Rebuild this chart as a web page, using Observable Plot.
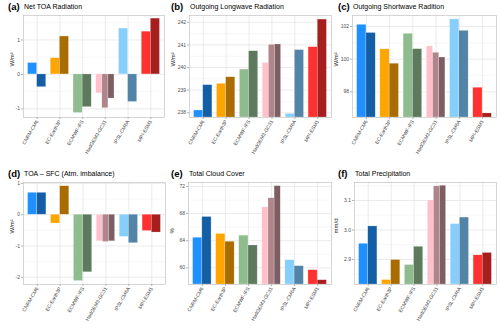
<!DOCTYPE html>
<html><head><meta charset="utf-8">
<script src="https://cdn.jsdelivr.net/npm/d3@7"></script>
<script src="https://cdn.jsdelivr.net/npm/@observablehq/plot@0.6"></script>
<style>
body{margin:0;background:#fff;font-family:"Liberation Sans",Arial,sans-serif;}
#wrap{position:relative;width:500px;height:326px;overflow:hidden;background:#fff;}
.cell{position:absolute;width:166px;height:163px;}
.tag{position:absolute;font-weight:bold;font-size:9.5px;line-height:10px;color:#000;white-space:nowrap;}
.ttl{position:absolute;font-size:7px;line-height:8px;color:#000;white-space:nowrap;}
.cell svg{position:absolute;left:0;}
</style></head><body><div id="wrap"></div>
<script>
const models = ["CNRM-CM6","EC-Earth3P","ECMWF-IFS","HadGEM3-GC31","IPSL-CM6A","MPI-ESM1"];
const colors = [
  ["#1e90ff","#145ea6"],
  ["#ffa500","#a86c00"],
  ["#8fbc8f","#5d7a5d"],
  ["#ffc0cb","#b0848b","#7d5e63"],
  ["#87cefa","#5184a6"],
  ["#ff3030","#a61f1f"]
];
const tags = ["(a)","(b)","(c)","(d)","(e)","(f)"];
const titles = ["Net TOA Radiation","Outgoing Longwave Radiation","Outgoing Shortwave Radition","TOA \u2013 SFC (Atm. imbalance)","Total Cloud Cover","Total Precipitation"];
const units = ["W/m\u00b2","W/m\u00b2","W/m\u00b2","W/m\u00b2","%","mm/d"];
const netTOA = [[0.33,-0.37],[0.47,1.10],[-1.12,-0.95],[-0.55,-0.98,-0.70],[1.33,-0.80],[1.24,1.62]];
const olr    = [[238.10,239.22],[239.28,239.57],[239.91,240.72],[240.20,241.00,241.02],[237.95,240.77],[240.90,242.12]];
const osr    = [[102.10,101.60],[100.60,99.72],[101.55,100.61],[100.78,100.39,100.10],[102.43,101.73],[98.25,96.68]];
const atmImb = [[0.70,0.70],[-0.28,0.91],[-2.12,-1.84],[-0.85,-0.87,-0.85],[-0.71,-0.91],[-0.52,-0.57]];
const cloud  = [[64.44,67.50],[65.00,63.85],[64.74,63.30],[68.93,70.26,72.05],[61.12,60.24],[59.65,58.17]];
const precip = [[2.953,3.012],[2.830,2.898],[2.881,2.943],[3.100,3.148,3.150],[3.020,3.042],[2.914,2.922]];
const yTicks = [[-1,0,1],[238,239,240,241,242],[98,100,102],[-2,-1,0,1],[60,64,68,72],[2.9,3.0,3.1]];
const yMinor = [[-0.5,0.5,1.5],[238.5,239.5,240.5,241.5],[97,99,101],[-1.5,-0.5,0.5],[58,62,66,70],[2.85,2.95,3.05,3.15]];

const series = [netTOA, olr, osr, atmImb, cloud, precip];
const domains = [[-1.25,1.71],[237.79,242.3],[96.43,102.67],[-2.23,1.03],[57.54,72.59],[2.815,3.161]];
const fmts = [String, String, String, String, String, d3.format(".1f")];
const layout = [
  {left:0,   top:0,   ml:23, mr:2, ldx:11,   tagX:8},
  {left:166, top:0,   ml:23, mr:1, ldx:16.5, tagX:5},
  {left:332, top:0,   ml:20, mr:2, ldx:16.5, tagX:6},
  {left:0,   top:167, ml:23, mr:1, ldx:11,   tagX:8},
  {left:166, top:167, ml:22, mr:1, ldx:16,   tagX:5},
  {left:332, top:167, ml:22, mr:2, ldx:18,   tagX:6}
];

const wrap = document.getElementById("wrap");
series.forEach((vals, k) => {
  const L = layout[k];
  const rows = [];
  models.forEach((m, i) => {
    const v = vals[i], n = v.length, w = 0.8 / n;
    v.forEach((val, j) => rows.push({x1: i + 0.6 + j * w, x2: i + 0.6 + (j + 1) * w, y: val, fill: colors[i][j]}));
  });
  const base = Math.max(0, domains[k][0]);
  const chart = Plot.plot({
    width: 166, height: 150,
    marginTop: 1, marginBottom: 47, marginLeft: L.ml, marginRight: L.mr,
    style: {fontFamily: "Liberation Sans, Arial, sans-serif", background: "transparent", overflow: "visible"},
    x: {domain: [0.4, 6.6]},
    y: {domain: domains[k]},
    color: {type: "identity"},
    marks: [
      Plot.gridY(yMinor[k], {stroke: "#ececec", strokeOpacity: 1, strokeWidth: 0.4}),
      Plot.gridY(yTicks[k], {stroke: "#e2e2e2", strokeOpacity: 1, strokeWidth: 0.7}),
      Plot.gridX([1,2,3,4,5,6], {stroke: "#e2e2e2", strokeOpacity: 1, strokeWidth: 0.7}),
      Plot.rect(rows, {x1: "x1", x2: "x2", y1: base, y2: "y", fill: "fill", stroke: "#ffffff", strokeOpacity: 0.45, strokeWidth: 0.5}),
      Plot.frame({stroke: "#c4c4c4", strokeWidth: 0.7}),
      Plot.axisY(yTicks[k], {tickSize: 2, tickPadding: 1.5, fontSize: 5, stroke: "#b3b3b3", fill: "#4d4d4d", tickFormat: fmts[k], label: null}),
      Plot.axisX([1,2,3,4,5,6], {tickSize: 2, tickPadding: 1, fontSize: 5, tickRotate: -60, stroke: "#b3b3b3", fill: "#4d4d4d", tickFormat: i => models[i - 1], label: null}),
      Plot.text([units[k]], {frameAnchor: "left", dx: -L.ldx, rotate: -90, fontSize: 6, fill: "#1a1a1a"})
    ]
  });
  const cell = document.createElement("div");
  cell.className = "cell";
  cell.style.left = L.left + "px";
  cell.style.top = L.top + "px";
  const tg = document.createElement("div");
  tg.className = "tag"; tg.textContent = tags[k];
  tg.style.left = L.tagX + "px"; tg.style.top = "2px";
  const tt = document.createElement("div");
  tt.className = "ttl"; tt.textContent = titles[k];
  tt.style.left = L.ml + 1 + "px"; tt.style.top = "3px";
  chart.style.top = "14px";
  cell.appendChild(tg); cell.appendChild(tt); cell.appendChild(chart);
  wrap.appendChild(cell);
});
</script>
</body></html>
